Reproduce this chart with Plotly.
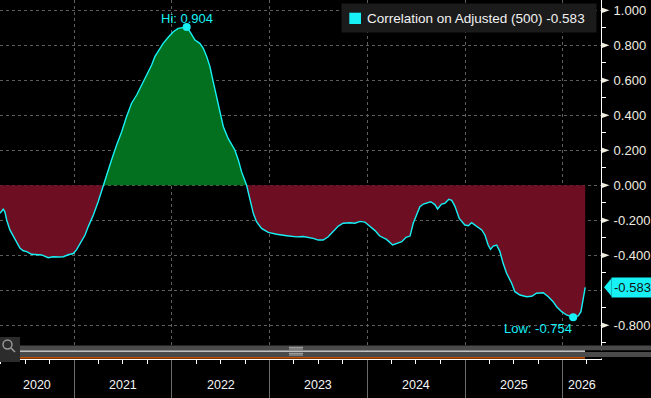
import numpy as np
import pandas as pd
import plotly.graph_objects as go

# ---------------- data ----------------
dates = [
    "2020-03-29", "2020-04-10", "2020-04-16", "2020-04-23", "2020-05-05", "2020-05-18",
    "2020-05-31", "2020-06-12", "2020-06-24", "2020-07-07", "2020-07-25", "2020-08-13",
    "2020-09-01", "2020-09-25", "2020-10-14", "2020-11-02", "2020-11-21", "2020-12-09",
    "2020-12-28", "2021-01-10", "2021-01-28", "2021-02-10", "2021-02-22", "2021-03-13",
    "2021-03-31", "2021-04-19", "2021-05-02", "2021-05-20", "2021-06-08", "2021-06-27",
    "2021-07-15", "2021-08-03", "2021-08-22", "2021-09-10", "2021-09-28", "2021-10-17",
    "2021-10-29", "2021-11-14", "2021-11-29", "2021-12-18", "2022-01-06", "2022-01-24",
    "2022-02-12", "2022-02-25", "2022-03-09", "2022-03-28", "2022-04-15", "2022-04-28",
    "2022-05-11", "2022-05-23", "2022-06-04", "2022-06-17", "2022-06-29", "2022-07-12",
    "2022-07-30", "2022-08-24", "2022-09-06", "2022-09-18", "2022-10-07", "2022-10-19",
    "2022-11-01", "2022-11-13", "2022-12-02", "2022-12-27", "2023-01-27", "2023-03-06",
    "2023-04-12", "2023-05-07", "2023-05-29", "2023-06-13", "2023-07-02", "2023-07-20",
    "2023-08-08", "2023-08-27", "2023-09-15", "2023-10-03", "2023-10-28", "2023-11-16",
    "2023-12-05", "2023-12-23", "2024-01-11", "2024-01-30", "2024-02-17", "2024-03-13",
    "2024-04-05", "2024-04-26", "2024-05-09", "2024-05-25", "2024-06-09", "2024-06-21",
    "2024-07-04", "2024-07-16", "2024-07-29", "2024-08-16", "2024-08-25", "2024-09-10",
    "2024-09-20", "2024-10-05", "2024-10-17", "2024-11-01", "2024-11-12", "2024-11-24",
    "2024-12-10", "2024-12-31", "2025-01-13", "2025-01-25", "2025-02-13", "2025-03-04",
    "2025-03-16", "2025-03-28", "2025-04-06", "2025-04-16", "2025-04-29", "2025-05-11",
    "2025-05-23", "2025-06-05", "2025-06-24", "2025-07-06", "2025-07-25", "2025-08-19",
    "2025-09-07", "2025-09-25", "2025-10-20", "2025-11-08", "2025-11-26", "2025-12-09",
    "2025-12-28", "2026-01-15", "2026-02-09", "2026-02-28", "2026-03-10", "2026-03-16",
    "2026-03-22", "2026-03-26",
]
values = [
    -0.160, -0.137, -0.150, -0.198, -0.255, -0.294,
    -0.331, -0.360, -0.374, -0.379, -0.394, -0.396,
    -0.398, -0.414, -0.408, -0.410, -0.408, -0.397,
    -0.390, -0.366, -0.322, -0.284, -0.236, -0.170,
    -0.094, 0.000, 0.068, 0.145, 0.230, 0.306,
    0.392, 0.469, 0.516, 0.573, 0.630, 0.687,
    0.735, 0.773, 0.811, 0.846, 0.878, 0.897,
    0.900, 0.904, 0.878, 0.830, 0.811, 0.783,
    0.735, 0.678, 0.592, 0.506, 0.411, 0.335,
    0.268, 0.202, 0.145, 0.078, 0.000, -0.084,
    -0.160, -0.208, -0.246, -0.269, -0.280, -0.288,
    -0.295, -0.293, -0.297, -0.303, -0.313, -0.313,
    -0.294, -0.265, -0.233, -0.217, -0.214, -0.217,
    -0.206, -0.210, -0.233, -0.259, -0.290, -0.309,
    -0.341, -0.332, -0.322, -0.297, -0.290, -0.217,
    -0.170, -0.122, -0.107, -0.099, -0.094, -0.110,
    -0.135, -0.107, -0.103, -0.080, -0.086, -0.120,
    -0.189, -0.227, -0.231, -0.214, -0.237, -0.255,
    -0.284, -0.341, -0.366, -0.347, -0.341, -0.379,
    -0.446, -0.503, -0.560, -0.608, -0.627, -0.637,
    -0.634, -0.617, -0.614, -0.637, -0.665, -0.694,
    -0.722, -0.741, -0.754, -0.746, -0.722, -0.674,
    -0.617, -0.583,
]
series_name = "Correlation on Adjusted (500)"
y_ticks = [-0.8, -0.6, -0.4, -0.2, 0.0, 0.2, 0.4, 0.6, 0.8, 1.0]
y_minor = [-0.9, -0.7, -0.5, -0.3, -0.1, 0.1, 0.3, 0.5, 0.7, 0.9]
year_labels = ["2020", "2021", "2022", "2023", "2024", "2025", "2026"]
x_start, x_end = "2020-03-29", "2026-05-24"
y_min, y_max = -0.9926, 1.0589

# ---------------- layout helpers ----------------
W, H = 651, 398
ML, MR, MT, MB = 0, 50, 0, 39
PW, PH = W - ML - MR, H - MT - MB
UNIT_PX = PH / (y_max - y_min)  # pixels per y unit


def fx(px):
    return px / PW


def fy(py):
    return (PH - py) / PH


CYAN = "#17f1f6"
GREEN = "#02701e"
RED = "#6e0e22"
GRID = "#5e5e5e"
TXT = "#f0ece0"
FONT = "Liberation Sans, Arial, sans-serif"

v = np.array(values, dtype=float)
pos = np.clip(v, 0, None)
neg = np.clip(v, None, 0)
imax, imin = int(np.argmax(v)), int(np.argmin(v))
last = v[-1]

fig = go.Figure()
fig.add_trace(go.Scatter(x=dates, y=pos, mode="lines", fill="tozeroy", fillcolor=GREEN,
                         line=dict(width=0, color="rgba(0,0,0,0)"), hoverinfo="skip"))
fig.add_trace(go.Scatter(x=dates, y=neg, mode="lines", fill="tozeroy", fillcolor=RED,
                         line=dict(width=0, color="rgba(0,0,0,0)"), hoverinfo="skip"))
fig.add_trace(go.Scatter(x=dates, y=v, mode="lines", line=dict(color=CYAN, width=1.4),
                         name=series_name))
fig.add_trace(go.Scatter(x=[dates[imax], dates[imin]], y=[v[imax], v[imin]], mode="markers",
                         marker=dict(color=CYAN, size=8), cliponaxis=False))

shapes = []
# triangle pointers on the right axis at major ticks (hidden where the last-value tag sits)
near_last = [abs(t - last) < 0.05 for t in y_ticks]
h_tri = 2.6 / UNIT_PX
for t, hide in zip(y_ticks, near_last):
    if hide:
        continue
    shapes.append(dict(type="path", xref="paper", yref="y",
                       path=f"M {fx(602)} {t + h_tri} L {fx(609.5)} {t} L {fx(602)} {t - h_tri} Z",
                       fillcolor=TXT, line=dict(width=0), layer="above"))
# pointer of the last-value tag
h_tag = 9.0 / UNIT_PX
shapes.append(dict(type="path", xref="paper", yref="y",
                   path=f"M {fx(604)} {last} L {fx(611.5)} {last + h_tag} L {fx(611.5)} {last - h_tag} Z",
                   fillcolor=CYAN, line=dict(width=0), layer="above"))

annotations = []
# Hi / Low labels
annotations.append(dict(x=dates[imax], y=v[imax], xref="x", yref="y", text=f"Hi: {v[imax]:.3f}",
                        showarrow=False, xanchor="center", yanchor="middle", yshift=9,
                        font=dict(color=CYAN, size=13, family=FONT)))
annotations.append(dict(x=dates[imin], y=v[imin], xref="x", yref="y", text=f"Low: {v[imin]:.3f}",
                        showarrow=False, xanchor="right", yanchor="middle", yshift=-11, xshift=1,
                        font=dict(color=CYAN, size=13, family=FONT)))
# last value tag
annotations.append(dict(x=fx(611), y=last, xref="paper", yref="y", text=f"{last:.3f}",
                        showarrow=False, xanchor="left", yanchor="middle", bgcolor=CYAN,
                        borderpad=2, font=dict(color="#101010", size=13, family=FONT)))
# legend text
annotations.append(dict(x=fx(365), y=fy(18.5), xref="paper", yref="paper",
                        text=f"{series_name} {last:.3f}", showarrow=False,
                        xanchor="left", yanchor="middle",
                        font=dict(color="#f2f2f2", size=13.5, family=FONT)))
# year labels centred in the visible part of each year
bounds = [pd.Timestamp(x_start)] + [pd.Timestamp(f"{y}-01-01") for y in year_labels[1:]] + [pd.Timestamp(x_end)]
for i, lab in enumerate(year_labels):
    mid = bounds[i] + (bounds[i + 1] - bounds[i]) / 2
    annotations.append(dict(x=mid, y=fy(385), xref="x", yref="paper", text=lab, showarrow=False,
                            xanchor="center", yanchor="middle",
                            font=dict(color="#f5f5f5", size=12.5, family=FONT)))

# legend box
shapes.append(dict(type="rect", xref="paper", yref="paper", x0=fx(341.5), x1=fx(596.5),
                   y0=fy(32.5), y1=fy(3.5), fillcolor="#1b1b1b", line=dict(width=0), layer="above"))
shapes.append(dict(type="rect", xref="paper", yref="paper", x0=fx(349.3), x1=fx(361),
                   y0=fy(24), y1=fy(12.7), fillcolor=CYAN, line=dict(width=0), layer="above"))
# scrollbar area
shapes.append(dict(type="rect", xref="paper", yref="paper", x0=fx(0), x1=fx(20), y0=fy(362),
                   y1=fy(337), fillcolor="#2c2c2c", line=dict(width=0), layer="above"))
shapes.append(dict(type="circle", xref="paper", yref="paper", x0=fx(3), x1=fx(12), y0=fy(349),
                   y1=fy(340), line=dict(color="#9a9a9a", width=1.4), layer="above"))
shapes.append(dict(type="line", xref="paper", yref="paper", x0=fx(11), x1=fx(15), y0=fy(348),
                   y1=fy(352), line=dict(color="#9a9a9a", width=1.6), layer="above"))
shapes.append(dict(type="rect", xref="paper", yref="paper", x0=fx(20), x1=fx(651), y0=fy(350.5),
                   y1=fy(345.5), fillcolor="#4a4a4a", line=dict(width=0), layer="above"))
shapes.append(dict(type="rect", xref="paper", yref="paper", x0=fx(20), x1=fx(651), y0=fy(357),
                   y1=fy(352), fillcolor="#4a4a4a", line=dict(width=0), layer="above"))
shapes.append(dict(type="rect", xref="paper", yref="paper", x0=fx(20), x1=fx(651), y0=fy(352),
                   y1=fy(350.5), fillcolor="#000000", line=dict(width=0), layer="above"))
shapes.append(dict(type="line", xref="paper", yref="paper", x0=fx(20), x1=fx(585), y0=fy(351.2),
                   y1=fy(351.2), line=dict(color="#ffffff", width=1.2), layer="above"))
for gy in (347.3, 349.0, 353.3, 355.0):
    shapes.append(dict(type="line", xref="paper", yref="paper", x0=fx(289), x1=fx(303), y0=fy(gy),
                       y1=fy(gy), line=dict(color="#b0b0b0", width=1), layer="above"))
shapes.append(dict(type="rect", xref="paper", yref="paper", x0=fx(20), x1=fx(651), y0=fy(358.5),
                   y1=fy(357), fillcolor="#000000", line=dict(width=0), layer="above"))
shapes.append(dict(type="line", xref="paper", yref="paper", x0=fx(20), x1=fx(585), y0=fy(357.8),
                   y1=fy(357.8), line=dict(color="#ff6a00", width=1.3), layer="above"))

fig.update_layout(
    width=W, height=H,
    margin=dict(l=ML, r=MR, t=MT, b=MB, pad=0),
    paper_bgcolor="#000000", plot_bgcolor="#000000",
    showlegend=False,
    font=dict(family=FONT, color=TXT),
    annotations=annotations,
    shapes=shapes,
    xaxis=dict(
        type="date", range=[x_start, x_end], tick0="2020-01-01", dtick="M12",
        ticks="outside", ticklen=39, tickcolor="#6b6b6b", tickwidth=1,
        showticklabels=False, showgrid=True, gridcolor=GRID, griddash="3px,3px", gridwidth=1,
        showline=True, linecolor="#ffffff", linewidth=1, zeroline=False,
        minor=dict(dtick="M3", tick0="2020-01-01", ticks="outside", ticklen=4,
                   tickcolor="#ffffff", showgrid=False),
        fixedrange=True,
    ),
    yaxis=dict(
        side="right", range=[y_min, y_max], tickmode="array", tickvals=y_ticks,
        ticktext=["" if hide else f"{t:.3f}" for t, hide in zip(y_ticks, near_last)],
        ticks="outside", ticklen=9, tickcolor="rgba(0,0,0,0)",
        tickfont=dict(size=13, color=TXT, family=FONT),
        showgrid=True, gridcolor=GRID, griddash="3px,3px", gridwidth=1,
        showline=True, linecolor="#ffffff", linewidth=1, zeroline=False,
        minor=dict(tickmode="array", tickvals=y_minor, ticks="outside", ticklen=4,
                   tickcolor="#ffffff", showgrid=False),
        automargin=False, fixedrange=True,
    ),
)

fig.write_html(
    "out.html",
    config={"displayModeBar": False},
    post_script="document.body.style.margin='0';document.body.style.overflow='hidden';",
)
